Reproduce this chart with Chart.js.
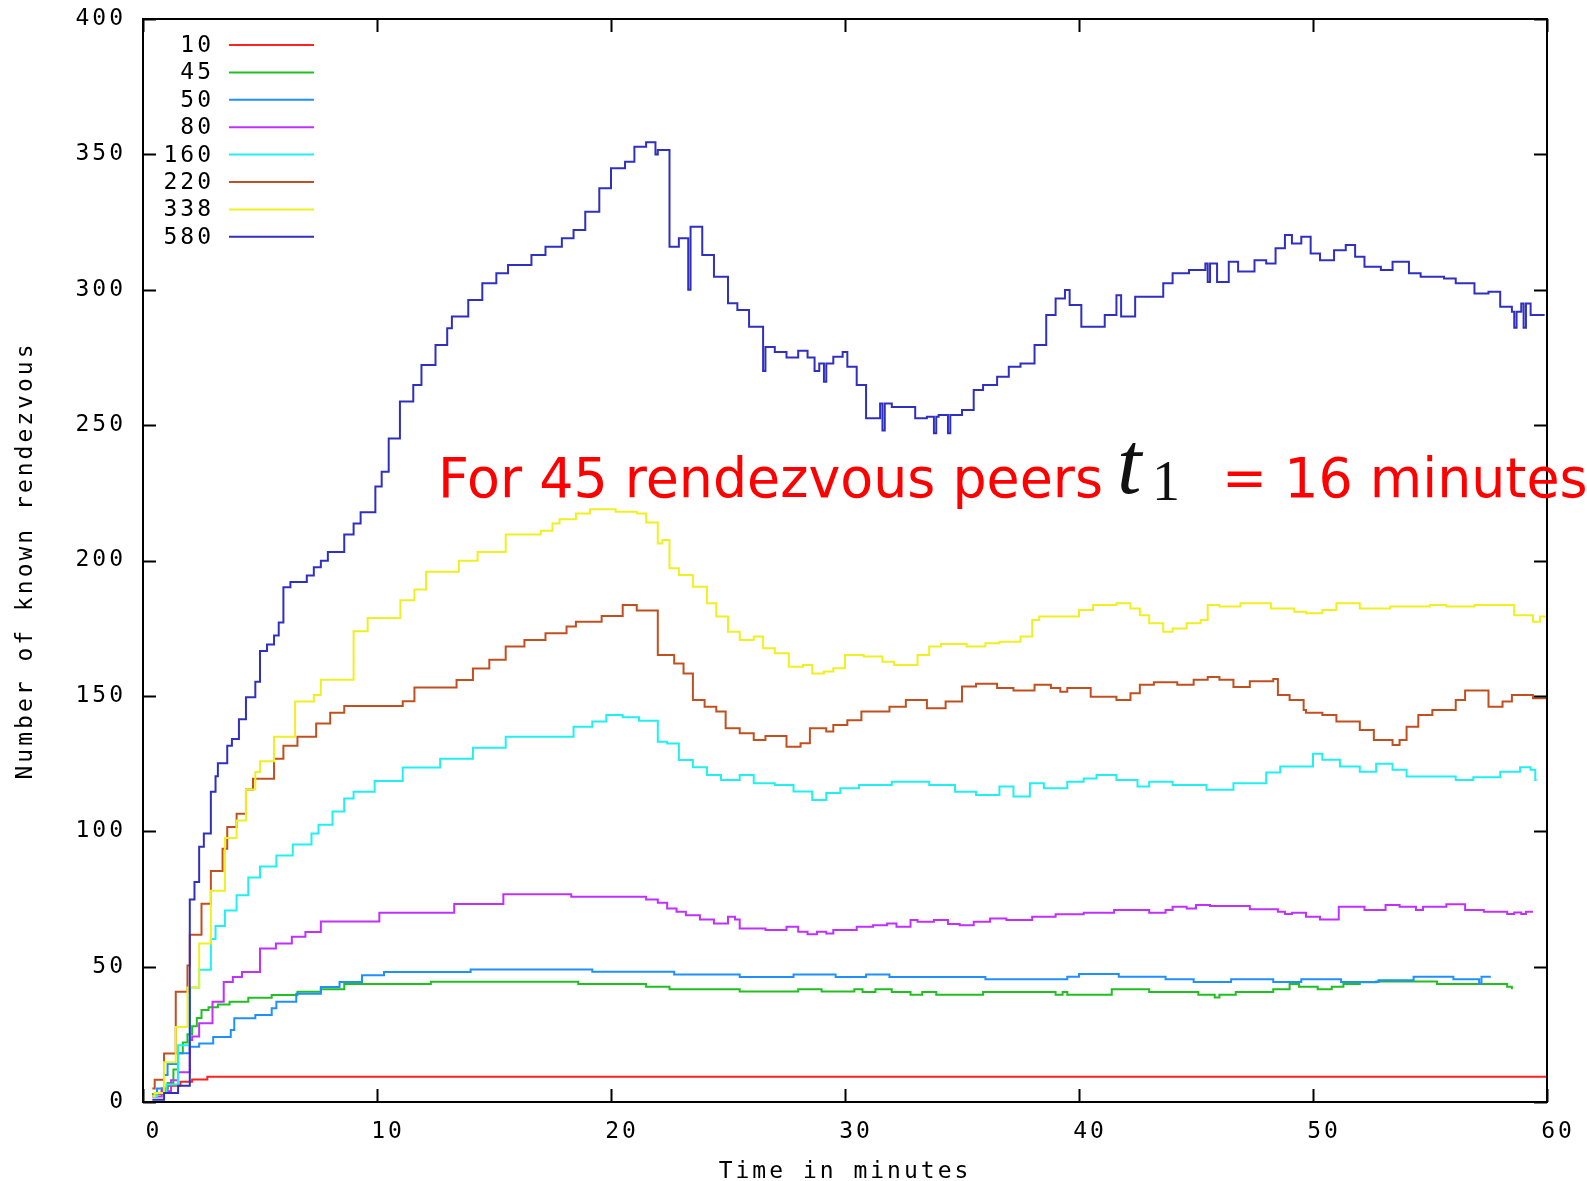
<!DOCTYPE html>
<html>
<head>
<meta charset="utf-8">
<script src="https://cdn.jsdelivr.net/npm/chart.js@4.4.1/dist/chart.umd.min.js"></script>
<style>
  html, body { margin: 0; padding: 0; background: #fff; }
</style>
</head>
<body>
<canvas id="chart" width="1587" height="1181"></canvas>
<script>
// legend labels = number of rendezvous peers
const peers = ['10', '45', '50', '80', '160', '220', '338', '580'];
const colors = ['#ff2020', '#20c020', '#2090ff', '#c030ff', '#20f0f0', '#c05020', '#f0f020', '#3030c0'];

const xTicks = [0, 10, 20, 30, 40, 50, 60];
const yTicks = [0, 50, 100, 150, 200, 250, 300, 350, 400];

// [minute, known rendezvous] - step data, value holds until next point
const s10 = [[0.4,3],[0.8,5],[1.05,6],[1.6,7.5],[2.1,8.3],[2.75,9.3],[60,9.3]];

const s45 = [[0.4,3],[0.9,4.5],[1.05,7],[1.3,12],[1.5,18],[1.7,22],[1.9,25],[2.1,28],[2.3,31],[2.5,34],
  [2.8,35],[3.2,36],[3.7,37],[4.5,38.5],[5.5,39.5],[6.6,40.7],[7.6,41.6],[8.6,43.6],[12.3,44.4],[18.6,43.6],
  [21.5,42.6],[22.5,41.6],[25.5,40.8],[28.0,41.6],[29.0,40.8],[30.4,41.6],[30.75,40.6],[31.3,41.6],[32.0,40.6],
  [32.8,39.6],[33.3,40.6],[33.9,39.6],[35.9,40.6],[39.0,39.6],[39.3,40.6],[39.5,39.6],[41.4,41.6],[43.0,40.6],
  [45.1,39.6],[45.8,38.6],[46.0,39.6],[46.7,40.6],[48.3,41.6],[49.0,43.6],[49.4,42.6],[50.2,41.6],[50.8,42.6],
  [51.3,43.6],[52.0,44.2],[52.7,44.5],[55.3,43.6],[58.3,42.6],[58.5,41.6]];

const s50 = [[0.4,2],[0.6,5],[0.9,10],[1.05,14],[1.5,18],[2.0,20.4],[2.4,21.6],[3.0,24],[3.75,26.6],[3.9,30.9],
  [4.8,32.1],[5.5,34.6],[5.7,37],[6.55,40],[7.6,42.5],[8.4,44.3],[9.36,46.8],[10.3,48],[14.0,48.9],[19.2,48.1],
  [22.7,47.1],[25.5,46.2],[27.8,47.1],[29.6,46.2],[30.9,47.1],[31.9,46.2],[36.0,45.3],[39.5,46.3],[40.0,47.3],
  [41.7,46.3],[43.7,45.3],[44.9,44.3],[46.5,45.3],[48.3,44.3],[49.5,45.3],[51.2,44.3],[52.8,45],[54.3,46.3],
  [56.0,45.3],[57.1,43.8],[57.2,46.3],[57.6,46.3]];

const s80 = [[0.4,2],[0.8,4],[1.2,8],[1.5,11],[2.0,22.9],[2.1,24.2],[2.4,29.1],[2.97,37],[3.45,44.3],[3.84,46.2],
  [4.23,48],[5.0,56.7],[5.68,58.5],[6.36,61],[6.94,62.8],[7.6,66.7],[10.1,69.9],[13.3,73.1],[15.4,76.7],[18.3,75.8],
  [21.5,74.8],[22.0,73.6],[22.4,71.5],[22.8,70.3],[23.2,69.0],[23.8,67.4],[24.4,65.9],[25.0,68.4],[25.3,67.4],
  [25.5,64.1],[26.6,63.5],[27.5,64.7],[28.0,62.9],[28.4,62.0],[28.8,62.9],[29.2,62.2],[29.5,63.5],[30.5,64.7],
  [31.2,65.3],[31.8,65.9],[32.2,64.7],[32.8,67.2],[33.1,66.6],[33.8,67.2],[34.4,65.7],[34.9,65.3],[35.5,66.6],
  [36.2,67.8],[36.9,67.2],[38.0,68.4],[39.0,69.3],[40.2,69.9],[41.5,70.9],[43.0,69.9],[43.7,70.9],[44.0,72.1],
  [44.6,71.5],[45.0,72.8],[45.6,72.4],[47.3,71.2],[48.5,70.3],[48.8,69.4],[49.1,69.9],[49.7,68.4],[50.3,67.4],
  [51.1,72.1],[52.2,70.9],[53.1,72.8],[53.7,72.1],[54.4,70.9],[54.7,72.1],[55.7,73.0],[56.5,70.9],[57.3,70.3],
  [58.3,69.4],[58.6,70.0],[58.9,69.4],[59.1,70.3],[59.4,70.3]];

const s160 = [[0.5,2],[0.6,3.3],[1.0,6.5],[1.5,21],[2.0,42.3],[2.4,48.8],[2.9,60.2],[3.1,65],[3.5,70.7],[4.0,76.4],
  [4.5,82.9],[5.0,87],[5.7,91],[6.4,95.1],[7.2,99.2],[7.5,102.4],[8.1,107.3],[8.6,112.1],[9.0,114.6],[9.9,118.6],
  [11.1,123.5],[12.7,126.8],[14.1,130.8],[15.5,134.9],[18.4,138.6],[19.2,140.5],[19.8,142.9],[20.5,142.1],
  [21.2,140.8],[22.0,133.1],[22.4,132.4],[22.9,126.3],[23.5,123.6],[24.1,120.8],[24.7,118.9],[25.5,120.8],
  [26.1,117.7],[27.0,117.1],[27.8,114.7],[28.6,111.5],[29.2,114.1],[29.8,115.9],[30.6,117.1],[32.0,118.3],
  [33.6,117.1],[34.7,114.6],[35.6,113.4],[36.6,116.5],[37.2,112.8],[37.9,117.7],[38.5,115.9],[39.5,118.3],
  [40.2,119.5],[40.75,120.8],[41.6,118.9],[42.5,116.5],[43.0,118.3],[44.0,117.1],[45.45,115.3],[46.6,117.7],
  [48.0,121.7],[48.6,123.9],[50.0,128.6],[50.4,126.4],[51.15,123.9],[52.0,122.0],[52.7,124.9],[53.4,122.7],
  [54.0,120.2],[56.1,118.9],[56.85,119.9],[58.0,122.0],[58.85,123.6],[59.3,122.7],[59.5,118.9],[59.56,118.9]];

const s220 = [[0.4,5],[0.5,8.2],[0.9,17.9],[1.4,40.7],[1.9,50.4],[2.0,61.8],[2.5,73.2],[2.9,85.3],[3.4,93.5],
  [3.6,101.6],[4.0,106.5],[4.4,115.4],[4.7,119.4],[5.6,126.8],[6.0,131.6],[6.6,134.9],[7.4,139.8],[8.0,143.8],
  [8.6,146.3],[11.1,148],[11.6,153.1],[13.4,155.9],[14.1,160.1],[14.8,163.3],[15.5,168.2],[16.3,170.6],
  [17.2,173.1],[18.1,175.6],[18.5,177.4],[19.6,179.5],[20.5,183.6],[21.1,181.5],[22.0,165.1],[22.7,162.0],
  [23.1,158.3],[23.5,148.5],[24.0,146.0],[24.5,144.2],[24.9,138.0],[25.5,136.2],[26.1,133.7],[26.6,135.2],
  [27.5,131.2],[28.1,132.5],[28.5,138.0],[29.2,136.8],[29.5,139.2],[30.1,141.0],[30.7,144.2],[31.9,146.0],
  [32.6,148.5],[33.5,145.4],[34.3,147.9],[35.0,153.5],[35.6,154.5],[36.5,152.9],[37.2,152.0],[38.1,154.1],
  [38.8,152.9],[39.2,151.5],[39.5,152.9],[40.5,149.7],[41.6,148.5],[42.2,151.0],[42.6,154.1],[43.2,155.0],
  [44.2,154.1],[44.9,156.0],[45.5,157.0],[46.0,156.0],[46.6,153.3],[47.3,155.4],[48.3,156.2],[48.5,150.3],
  [49.0,148.5],[49.6,144.8],[49.7,143.8],[50.4,142.9],[51.0,140.5],[52.0,137.4],[52.6,133.7],[53.4,131.9],
  [53.7,133.7],[54.0,138.6],[54.5,142.9],[55.1,144.8],[56.1,148.5],[56.5,152.0],[57.5,146.0],[58.1,147.9],
  [58.5,150.3],[59.4,149.1],[60,149.1]];

const s338 = [[0.4,2],[0.5,3.3],[0.9,14.7],[1.4,27.7],[1.9,42.3],[2.4,58.5],[2.9,78],[3.5,97.5],[4.0,104],
  [4.4,115.4],[4.8,121.9],[5.0,125.9],[5.6,134.9],[6.5,147.9],[7.3,150.3],[7.6,156],[9.0,173.9],[9.6,178.8],
  [11.0,185.3],[11.6,189.3],[12.1,195.8],[13.5,199.9],[14.3,203.1],[15.5,209.6],[17.0,211],[17.5,213.7],
  [17.8,215.2],[18.5,217.4],[19.1,218.9],[20.2,218],[21.1,217.4],[21.5,214],[22.0,206.3],[22.2,207.6],
  [22.5,197.1],[22.9,194.6],[23.5,190.3],[24.1,184.2],[24.5,179.3],[25.0,173.7],[25.5,170.6],[26.1,171.9],
  [26.5,167.6],[27.0,165.7],[27.6,160.8],[28.2,161.4],[28.6,158.3],[29.1,159],[29.5,160.2],[30.0,165.1],
  [30.8,164.5],[31.6,162.6],[32.1,161.4],[33.1,165.1],[33.6,168.2],[34.1,169.2],[35.2,168.2],[36.0,169.4],
  [36.6,170],[37.5,171.9],[38.0,178],[38.3,179.3],[40.0,181.7],[40.6,183.6],[41.6,184.2],[42.2,182.3],
  [42.6,179.8],[43.0,176.8],[43.6,173.7],[44.0,174.9],[44.6,176.8],[45.2,178],[45.5,183.6],[46.0,183],
  [46.9,184.2],[48.2,182.3],[49.2,181.1],[49.7,180.5],[50.4,181.7],[51.0,184.2],[52.0,182.3],[53.3,183],
  [55.0,183.6],[55.7,183],[56.9,183.6],[58.6,179.8],[59.4,177.4],[59.7,179.3],[60,179.3]];

const s580 = [[0.4,0.8],[0.9,3.3],[1.5,6],[2.0,74.8],[2.2,81.3],[2.4,94.3],[2.6,99.2],[2.9,114.6],[3.1,120.3],
  [3.2,125.1],[3.6,131.6],[3.8,134.1],[4.1,141.4],[4.4,149.5],[4.8,155.2],[5.0,166.6],[5.3,169],[5.6,172.3],
  [5.8,177.1],[6.0,190.1],[6.3,192.1],[7.0,194.5],[7.3,197.5],[7.6,199.9],[7.9,203.1],[8.6,209.6],[9.0,213.7],
  [9.3,217.8],[9.93,227.3],[10.2,232.8],[10.5,245.1],[10.98,258.7],[11.55,264.8],[11.9,272.2],[12.5,279.6],
  [13.0,285.8],[13.2,290.1],[13.9,296.2],[14.5,302.4],[15.1,306.1],[15.6,309.1],[16.6,312.8],[17.2,315.9],
  [17.9,319],[18.4,322.1],[18.9,328.8],[19.5,337.5],[20.0,344.9],[20.6,347.3],[21.0,352.8],[21.5,354.5],
  [21.9,350],[22.0,351.6],[22.5,315.9],[22.9,319],[23.3,300],[23.4,323.3],[23.9,312.8],[24.4,304.8],[25.0,295],
  [25.4,292.5],[25.9,286.3],[26.5,270],[26.6,278.9],[27.0,277],[27.5,275],[28.0,277.5],[28.4,275],[28.7,270],
  [28.9,272.8],[29.1,266],[29.2,272.8],[29.5,275.3],[29.9,277],[30.1,271.6],[30.5,264.8],[30.9,252.5],
  [31.5,258],[31.6,248],[31.7,258],[32.0,256.7],[33.0,252.5],[33.5,253.1],[33.8,247],[33.9,253.1],[34.0,253.7],
  [34.4,247],[34.5,253.7],[35.0,255.6],[35.5,263],[35.9,264.8],[36.5,267.9],[37.0,271.6],[37.5,272.8],
  [38.1,279.6],[38.6,290.7],[39.0,296.8],[39.4,299.9],[39.6,294.4],[40.1,286.3],[41.1,290.7],[41.6,298],
  [41.8,290.1],[42.4,297.4],[43.6,302.4],[44.0,306.1],[44.7,307.3],[45.4,309.7],[45.5,302.9],[45.6,309.7],
  [45.9,302.9],[46.4,310.3],[46.8,306.7],[47.5,310.9],[48.0,309.7],[48.4,315.3],[48.8,320.2],[49.1,317.1],
  [49.5,319.6],[49.9,313.4],[50.3,310.9],[50.9,314.6],[51.4,316.5],[51.8,312.2],[52.2,308.5],[52.9,307.3],
  [53.4,310.3],[54.1,306.1],[54.6,304.8],[55.6,304.2],[56.1,302.4],[56.9,298.6],[57.5,299.3],[58.0,293.7],
  [58.5,291.9],[58.6,286],[58.7,291.9],[58.9,294.9],[59.0,286],[59.1,294.9],[59.3,290.7],[59.9,290.7]];

const series = [s10, s45, s50, s80, s160, s220, s338, s580];

const noteLead = 'For 45 rendezvous peers';
const noteTail = '= 16 minutes';

const MONO = '"DejaVu Sans Mono", monospace';
const axisFont = { family: MONO, size: 23, lineHeight: 1 };
const titleFont = { family: MONO, size: 23, lineHeight: 0.74 };

// gnuplot-like box with inward ticks on all four sides
const frame = {
  id: 'frame',
  beforeDraw(chart) {
    chart.ctx.letterSpacing = '3px';
  },
  afterDatasetsDraw(chart) {
    const { ctx, chartArea: a, scales: { x, y } } = chart;
    ctx.save();
    ctx.strokeStyle = '#000';
    ctx.lineWidth = 2;
    ctx.beginPath();
    xTicks.forEach(v => {
      const px = Math.round(x.getPixelForValue(v)) + 0.5;
      ctx.moveTo(px, a.bottom); ctx.lineTo(px, a.bottom - 13);
      ctx.moveTo(px, a.top); ctx.lineTo(px, a.top + 13);
    });
    yTicks.forEach(v => {
      const py = Math.round(y.getPixelForValue(v)) + 0.5;
      ctx.moveTo(a.left, py); ctx.lineTo(a.left + 13, py);
      ctx.moveTo(a.right, py); ctx.lineTo(a.right - 13, py);
    });
    ctx.stroke();
    ctx.strokeRect(a.left, a.top, a.right - a.left, a.bottom - a.top);
    ctx.restore();
  }
};

// legend inside the top-left corner: label then a short line
const keyBox = {
  id: 'keyBox',
  afterDraw(chart) {
    const { ctx } = chart;
    ctx.save();
    ctx.letterSpacing = '3px';
    ctx.font = '23px ' + MONO;
    ctx.textAlign = 'right';
    ctx.textBaseline = 'middle';
    chart.data.datasets.forEach((ds, i) => {
      const yy = 45 + i * 27.4;
      ctx.fillStyle = '#000';
      ctx.fillText(ds.label, 214, yy + 1);
      ctx.strokeStyle = ds.borderColor;
      ctx.lineWidth = 2;
      ctx.beginPath();
      ctx.moveTo(229, yy); ctx.lineTo(314, yy);
      ctx.stroke();
    });
    ctx.restore();
  }
};

// red annotation with the math t_1
const note = {
  id: 'note',
  afterDraw(chart) {
    const { ctx } = chart;
    ctx.save();
    ctx.letterSpacing = '0px';
    ctx.textBaseline = 'alphabetic';
    ctx.textAlign = 'left';
    ctx.font = '55px "DejaVu Sans"';
    const sx = 665 / ctx.measureText(noteLead).width;
    ctx.fillStyle = '#ff0000';
    ctx.save();
    ctx.translate(438, 497); ctx.scale(sx, 1);
    ctx.fillText(noteLead, 0, 0);
    ctx.restore();
    ctx.save();
    ctx.translate(1222, 497); ctx.scale(sx, 1);
    ctx.fillText(noteTail, 0, 0);
    ctx.restore();
    ctx.fillStyle = '#111';
    ctx.font = 'italic 88px "Liberation Serif"';
    ctx.fillText('t', 1117, 493);
    ctx.font = '56px "Liberation Serif"';
    ctx.fillText('1', 1152, 500);
    ctx.restore();
  }
};

new Chart(document.getElementById('chart'), {
  type: 'line',
  data: {
    datasets: series.map((s, i) => ({
      label: peers[i],
      data: s.map(([x, y]) => ({ x, y })),
      borderColor: colors[i],
      borderWidth: 2,
      pointRadius: 0,
      stepped: 'before',
      fill: false,
      order: series.length - i
    }))
  },
  options: {
    responsive: false,
    animation: false,
    events: [],
    layout: { padding: { top: 19, right: 40, bottom: 0, left: 0 } },
    plugins: { legend: { display: false }, tooltip: { enabled: false } },
    scales: {
      x: {
        type: 'linear', min: 0, max: 60,
        afterFit: s => { s.height = 79; s.paddingLeft = 0; s.paddingRight = 0; },
        afterBuildTicks: s => { s.ticks = xTicks.map(v => ({ value: v })); },
        grid: { display: false, drawTicks: false },
        border: { display: false },
        ticks: { font: axisFont, color: '#000', padding: 19, labelOffset: 11, maxRotation: 0, autoSkip: false },
        title: { display: true, text: 'Time in minutes', color: '#000', font: titleFont, padding: { top: 0, bottom: 0 } }
      },
      y: {
        min: 0, max: 400,
        afterFit: s => { s.width = 143; s.paddingTop = 0; s.paddingBottom = 0; },
        afterBuildTicks: s => { s.ticks = yTicks.map(v => ({ value: v })); },
        grid: { display: false, drawTicks: false },
        border: { display: false },
        ticks: { font: axisFont, color: '#000', padding: 17 },
        title: { display: true, text: 'Number of known rendezvous', color: '#000', font: axisFont, padding: { top: 15, bottom: 0 } }
      }
    }
  },
  plugins: [frame, keyBox, note]
});
</script>
</body>
</html>
